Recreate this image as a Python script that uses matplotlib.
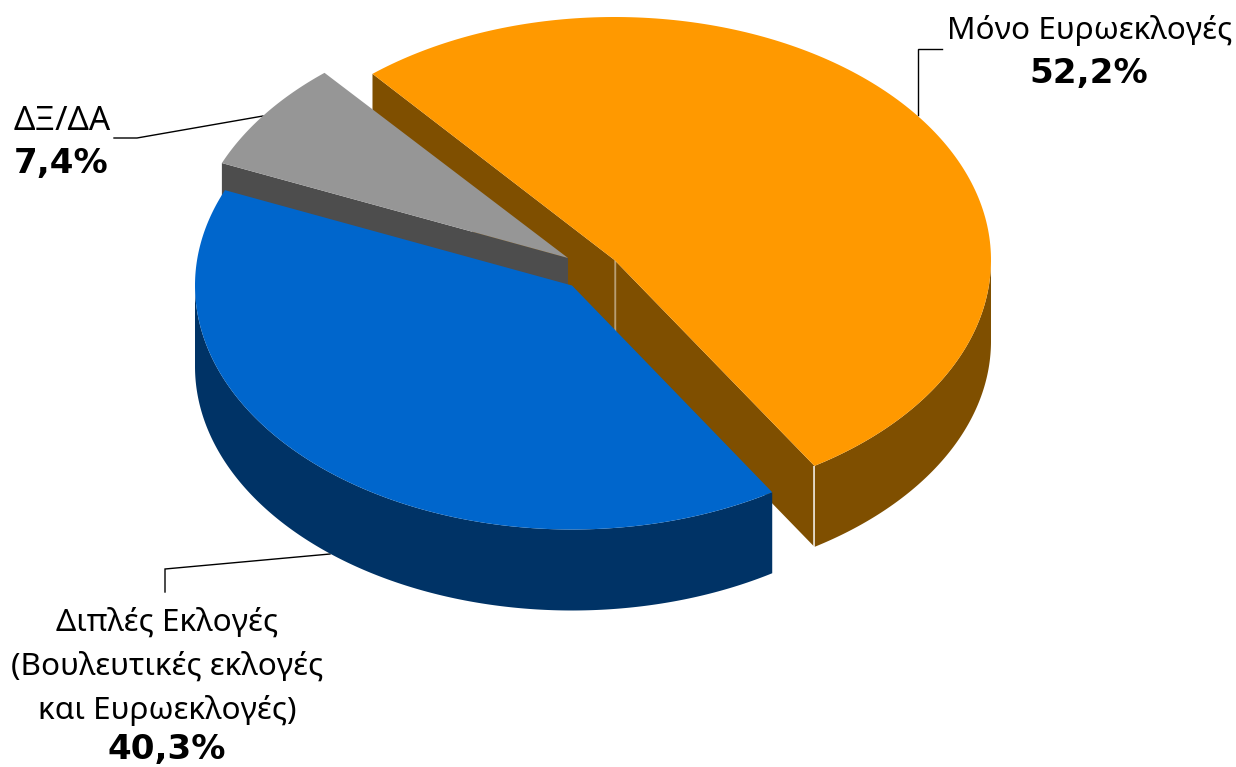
import numpy as np
import matplotlib
matplotlib.use("Agg")
import matplotlib.pyplot as plt

# slices go clockwise from start_angle
names = ["Μόνο Ευρωεκλογές", "Διπλές Εκλογές\n(Βουλευτικές εκλογές\nκαι Ευρωεκλογές)", "ΔΞ/ΔΑ"]
values = [52.2, 40.3, 7.4]
top_colors = ["#FF9900", "#0066CC", "#969696"]
side_colors = ["#7F4F00", "#003366", "#4D4D4D"]

start_angle = 130.0
depth = 81
centers = [(614.5, 260), (572, 285.5), (568, 258)]
radii = [(376.5, 243), (377, 244), (376, 243)]

W, H = 1236, 767
fig = plt.figure(figsize=(W / 100, H / 100), dpi=100)
ax = fig.add_axes([0, 0, 1, 1])
ax.set_xlim(0, W)
ax.set_ylim(H, 0)
ax.axis("off")

edges = start_angle - np.cumsum([0] + values) * 3.6


def arc(i, a0, a1):
    t = np.radians(np.linspace(a0, a1, 200))
    return centers[i][0] + radii[i][0] * np.cos(t), centers[i][1] - radii[i][1] * np.sin(t)


def top(i, z=1):
    x, y = arc(i, edges[i], edges[i + 1])
    ax.fill(np.r_[centers[i][0], x], np.r_[centers[i][1], y], color=top_colors[i], lw=0, zorder=z)


def wall(i, a0, a1, z=1):
    x, y = arc(i, a0, a1)
    ax.fill(np.r_[x, x[::-1]], np.r_[y, y[::-1] + depth], color=side_colors[i], lw=0, zorder=z)


def cut(i, a, z=1):
    cx, cy = centers[i]
    x, y = arc(i, a, a)
    ax.fill([cx, x[0], x[0], cx], [cy, y[0], y[0] + depth, cy + depth], color=side_colors[i], lw=0, zorder=z)


# orange
cut(0, edges[0])
cut(0, edges[1])
wall(0, edges[1], 0)
x1, y1 = arc(0, edges[1], edges[1])
ax.plot([x1[0], x1[0]], [y1[0], y1[0] + depth], color="white", lw=1.2, alpha=0.85, solid_capstyle="butt", zorder=1.5)
ax.plot([centers[0][0]] * 2, [centers[0][1], centers[0][1] + depth], color="white", lw=1, alpha=0.45, solid_capstyle="butt", zorder=1.5)
top(0, 1.6)

# grey
cut(2, edges[2], 3)
top(2, 3)

# blue
wall(1, edges[1], -180, 4)
top(1, 4)

# leaders
ax.plot([918, 918, 942], [115, 49, 49], color="black", lw=1, solid_joinstyle="miter")
ax.plot([263, 137, 114], [116, 138, 138], color="black", lw=1)
ax.plot([330, 165, 165], [554, 569, 592], color="black", lw=1, solid_joinstyle="miter")

# labels
fam = "Noto Sans"
fs = 22.7
bold_fs = 24.6


def pct(v):
    return f"{v:.1f}%".replace(".", ",")


ax.text(1090, 30, names[0], ha="center", va="center", fontsize=fs, family=fam)
ax.text(1089, 74, pct(values[0]), ha="center", va="center", fontsize=bold_fs, family="DejaVu Sans", weight="bold")
ax.text(14, 121, names[2], ha="left", va="center", fontsize=24, family=fam)
ax.text(14, 164, pct(values[2]), ha="left", va="center", fontsize=bold_fs, family="DejaVu Sans", weight="bold")
for yy, line in zip([623, 667, 710], names[1].split("\n")):
    ax.text(167, yy, line, ha="center", va="center", fontsize=fs, family=fam)
ax.text(167, 750, pct(values[1]), ha="center", va="center", fontsize=bold_fs, family="DejaVu Sans", weight="bold")

fig.savefig("out.png", dpi=100, facecolor="white")
